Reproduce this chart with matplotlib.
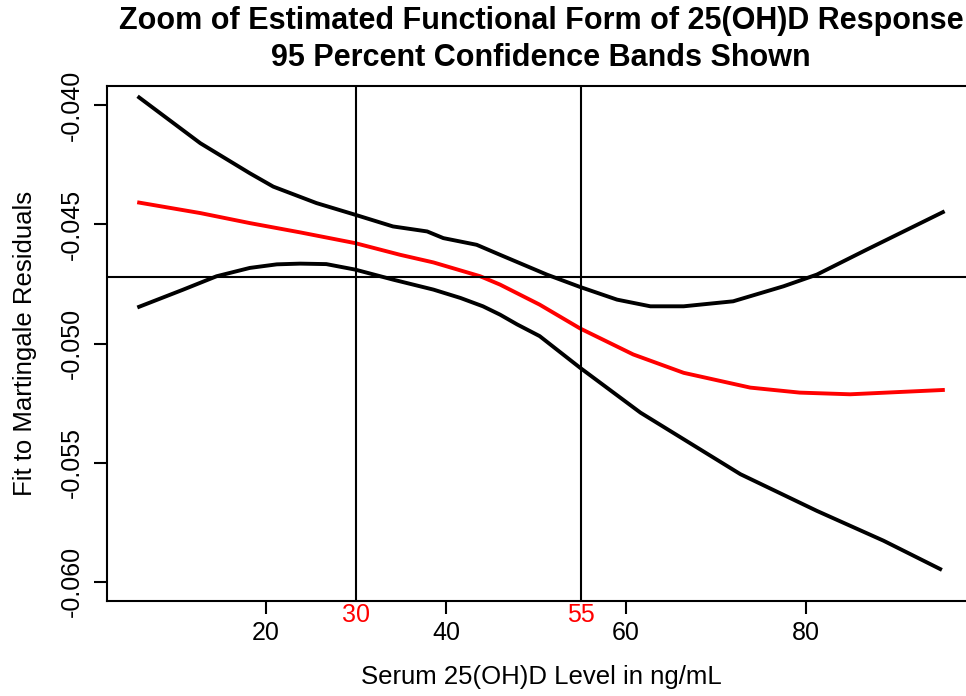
import numpy as np
import matplotlib
matplotlib.use("Agg")
import matplotlib.pyplot as plt
import matplotlib.transforms as mtransforms

plt.rcParams['font.family'] = ['Liberation Sans', 'DejaVu Sans']

# values
x_upper = [5.9, 12.7, 18.2, 20.8, 25.6, 29.9, 34.1, 37.9, 39.7, 43.4, 46.0,
           51.2, 54.9, 59.0, 62.7, 66.4, 71.9, 77.5, 81.2, 86.7, 95.2]
y_upper = [-0.03968, -0.04160, -0.04286, -0.04342, -0.04411, -0.04460, -0.04509,
           -0.04530, -0.04558, -0.04586, -0.04628, -0.04711, -0.04763, -0.04816,
           -0.04844, -0.04844, -0.04823, -0.04760, -0.04711, -0.04607, -0.04449]

x_fit = [5.9, 12.7, 18.2, 23.8, 29.9, 34.9, 38.6, 43.8, 46.0, 50.4, 54.9,
         60.8, 66.4, 73.8, 79.3, 84.9, 95.2]
y_fit = [-0.04409, -0.04453, -0.04495, -0.04534, -0.04579, -0.04628, -0.04660,
         -0.04718, -0.04753, -0.04837, -0.04937, -0.05046, -0.05123, -0.05185,
         -0.05206, -0.05213, -0.05195]

x_lower = [5.9, 10.8, 14.5, 18.2, 21.2, 23.8, 26.7, 29.9, 34.1, 38.6, 41.6, 44.1,
           46.0, 47.9, 50.4, 54.9, 61.6, 72.7, 81.2, 88.6, 94.9]
y_lower = [-0.04846, -0.04774, -0.04718, -0.04683, -0.04668, -0.04665, -0.04667,
           -0.04690, -0.04732, -0.04774, -0.04809, -0.04844, -0.04879, -0.04920,
           -0.04969, -0.05102, -0.05290, -0.05548, -0.05702, -0.05827, -0.05946]

cut_points = [30, 55]
h_ref = -0.0472
x_ticks = [20, 40, 60, 80]
y_ticks = [-0.040, -0.045, -0.050, -0.055, -0.060]

fig = plt.figure(figsize=(9.66, 6.96), dpi=100)
ax = fig.add_axes([107/966, 95/696, 868/966, 515/696])

ax.plot(x_upper, y_upper, color="black", lw=2.8, solid_joinstyle="round")
ax.plot(x_lower, y_lower, color="black", lw=2.8, solid_joinstyle="round")
ax.plot(x_fit, y_fit, color="red", lw=2.8, solid_joinstyle="round")
for c in cut_points:
    ax.axvline(c, color="black", lw=1.5)
ax.axhline(h_ref, color="black", lw=1.5)

ax.set_xlim(2.33, 98.77)
ax.set_ylim(-0.0608, -0.0392)
ax.set_xticks(x_ticks)
ax.set_yticks(y_ticks)
ax.set_yticklabels(["%.3f" % v for v in y_ticks])
ax.tick_params(axis="both", direction="out", length=9.5, width=1.5, labelsize=18)
ax.tick_params(axis="x", pad=5)
ax.tick_params(axis="y", pad=7)
for lab in ax.get_yticklabels():
    lab.set_rotation(90)
    lab.set_va("center")
for sp in ax.spines.values():
    sp.set_linewidth(1.5)

trans = mtransforms.blended_transform_factory(ax.transData, ax.transAxes)
for c in cut_points:
    ax.text(c, -0.003, str(c), color="red", fontsize=18, ha="center", va="top",
            transform=trans)

ax.set_xlabel("Serum 25(OH)D Level in ng/mL", fontsize=18.5)
ax.xaxis.set_label_coords(0.5, -76/515)
ax.xaxis.label.set_va("center")
ax.set_ylabel("Fit to Martingale Residuals", fontsize=18.5)
ax.yaxis.set_label_coords(-82/868, 0.5)
ax.yaxis.label.set_va("center")

fig.text(541/966, 1 - 21/696, "Zoom of Estimated Functional Form of 25(OH)D Response",
         ha="center", va="center", fontsize=22, fontweight="bold")
fig.text(541/966, 1 - 58/696, "95 Percent Confidence Bands Shown",
         ha="center", va="center", fontsize=22, fontweight="bold")

fig.savefig("out.png", dpi=100)
